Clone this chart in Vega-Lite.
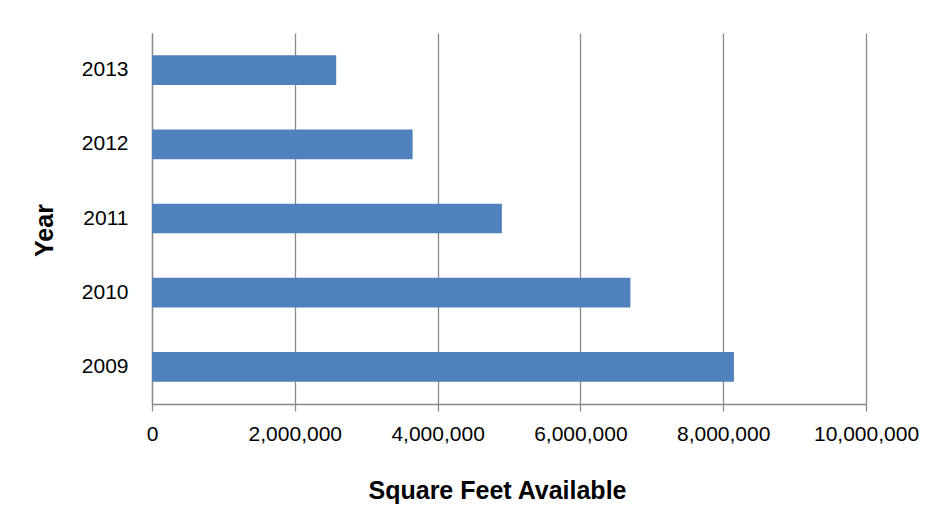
{
  "$schema": "https://vega.github.io/schema/vega-lite/v6.json",
  "autosize": {"type": "none"},
  "width": 714,
  "height": 371,
  "padding": {"left": 152, "top": 33, "right": 85, "bottom": 113},
  "background": "white",
  "data": {
    "values": [
      {"year": "2009", "sqft": 8150000},
      {"year": "2010", "sqft": 6700000},
      {"year": "2011", "sqft": 4900000},
      {"year": "2012", "sqft": 3650000},
      {"year": "2013", "sqft": 2580000}
    ]
  },
  "mark": {"type": "bar", "color": "#4F81BD"},
  "encoding": {
    "y": {
      "field": "year",
      "type": "nominal",
      "sort": "descending",
      "scale": {"paddingInner": 0.6, "paddingOuter": 0.3},
      "axis": {
        "title": "Year",
        "titleFont": "Liberation Sans",
        "titleFontSize": 25,
        "titleFontWeight": "bold",
        "titleColor": "black",
        "titleAngle": 270,
        "titleAlign": "center",
        "titleBaseline": "alphabetic",
        "titleX": -100,
        "titleY": 197,
        "labelFont": "Liberation Sans",
        "labelFontSize": 21,
        "labelColor": "black",
        "labelPadding": 24,
        "ticks": false,
        "domainColor": "#8a8a8a",
        "domainWidth": 1.3,
        "grid": false
      }
    },
    "x": {
      "field": "sqft",
      "type": "quantitative",
      "scale": {"domain": [0, 10000000], "nice": false},
      "axis": {
        "title": "Square Feet Available",
        "titleFont": "Liberation Sans",
        "titleFontSize": 25,
        "titleFontWeight": "bold",
        "titleColor": "black",
        "titleAlign": "center",
        "titleBaseline": "alphabetic",
        "titleX": 345,
        "titleY": 94,
        "values": [0, 2000000, 4000000, 6000000, 8000000, 10000000],
        "format": ",d",
        "labelFont": "Liberation Sans",
        "labelFontSize": 21,
        "labelColor": "black",
        "labelPadding": 12,
        "labelOverlap": false,
        "labelFlush": false,
        "tickSize": 7,
        "tickColor": "#8a8a8a",
        "tickWidth": 1.3,
        "domainColor": "#8a8a8a",
        "domainWidth": 1.3,
        "grid": true,
        "gridColor": "#8a8a8a",
        "gridWidth": 1.3
      }
    }
  },
  "config": {"view": {"stroke": null}}
}
